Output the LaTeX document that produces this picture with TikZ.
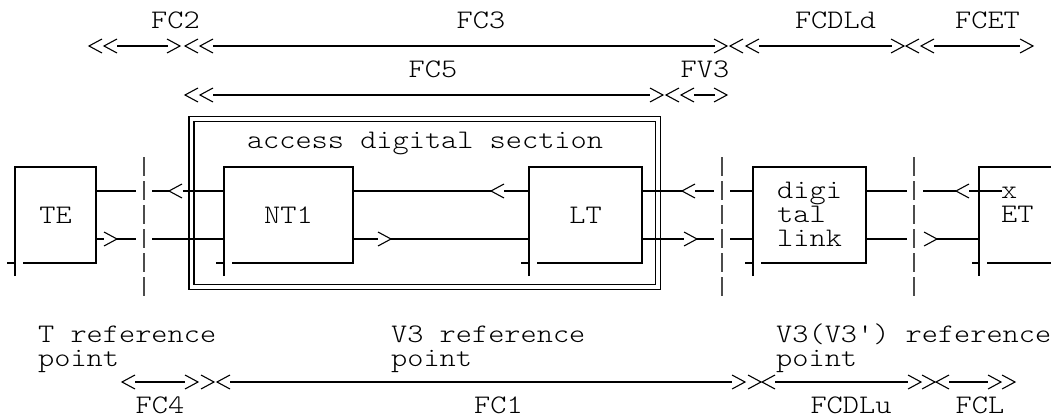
\documentclass[tikz,border=0pt]{standalone}
\usepackage{fontspec}
\newfontfamily\lmm{lmmonolt10-regular.otf}[FakeStretch=1.15,Ligatures=TeXOff]
\usetikzlibrary{calc}
\newcommand\lchev[2]{\draw[chev] (#1,#2) ++(13,-7) -- (#1,#2) -- ++(13,7);}
\newcommand\rchev[2]{\draw[chev] (#1,#2) ++(-13,-7) -- (#1,#2) -- ++(-13,7);}
\newcommand\asciibox[1]{%
  \draw[ln] ([xshift=-8pt]#1.south west) -- (#1.south west);
  \draw[ln] ([yshift=-13pt]#1.south west) -- (#1.north west) -- (#1.north east) -- (#1.south east) -- ([xshift=8pt]#1.south west);}
\begin{document}
\begin{tikzpicture}[x=1pt,y=-1pt,
  ln/.style={line width=1.7pt},
  chev/.style={line width=1.1pt},
  dsh/.style={line width=1.4pt,draw=black!70,dash pattern=on 19pt off 5pt},
  txt/.style={inner sep=0pt,font=\lmm\fontsize{26.8}{24}\selectfont},
  bx/.style={inner sep=0pt,outer sep=0pt,font=\lmm\fontsize{26.8}{24}\selectfont}]
\useasboundingbox[fill=white] (0,0) rectangle (1051,417);
\coordinate (up) at (0,191);
\coordinate (lo) at (0,239);
% top labels
\node[txt,anchor=base] (fc2) at (175.5,29) {FC2};
\node[txt,anchor=base] (fc3) at (481,29) {FC3};
\node[txt,anchor=base] (fcdld) at (835.5,29) {FCDLd};
\node[txt,anchor=base] (fcet) at (987.5,29) {FCET};
\node[txt,anchor=base] (fc5) at (433,78) {FC5};
\node[txt,anchor=base] (fv3) at (705,78) {FV3};
% top dimension row
\lchev{89}{46}\lchev{104}{46}
\draw[ln] (117,46) -- (168,46);
\rchev{180}{46}
\lchev{185}{46}\lchev{200}{46}
\draw[ln] (213,46) -- (715,46);
\rchev{727}{46}
\lchev{730}{46}\lchev{746}{46}
\draw[ln] (759,46) -- (892,46);
\rchev{904}{46}
\lchev{906}{46}\lchev{921}{46}
\draw[ln] (934,46) -- (1020,46);
\rchev{1033}{46}
% second dimension row
\lchev{185}{95}\lchev{200}{95}
\draw[ln] (213,95) -- (650,95);
\rchev{663}{95}
\lchev{666}{95}\lchev{681}{95}
\draw[ln] (694,95) -- (715,95);
\rchev{727}{95}
% access digital section
\node[draw,line width=1.5pt,double,double distance=3.5pt,minimum width=466.5pt,minimum height=168pt,inner sep=0pt] (ads) at (424.75,203) {};
\node[txt,anchor=base] (adslabel) at (425,148) {access digital section};
% boxes
\node[bx,minimum width=81pt,minimum height=96pt] (te) at (55.5,215) {TE};
\node[bx,minimum width=129pt,minimum height=96pt] (nt1) at (288.5,215) {NT1};
\node[bx,minimum width=113pt,minimum height=96pt] (lt) at (585.5,215) {LT};
\node[bx,minimum width=113pt,minimum height=96pt] (dl) at (809.5,215) {};
\node[bx,minimum width=72pt,minimum height=96pt] (et) at (1015,215) {};
\asciibox{te}\asciibox{nt1}\asciibox{lt}\asciibox{dl}
\draw[ln] ([xshift=-7pt]et.south west) -- (et.south west);
\draw[ln] (et.north east) -- (et.north west) -- ([yshift=-13pt]et.south west);
\draw[ln] ([xshift=8pt]et.south west) -- (et.south east);
\node[txt,anchor=base west] (dl1) at (777,198) {digi};
\node[txt,anchor=base west] (dl2) at (777,222) {tal};
\node[txt,anchor=base west] (dl3) at (777,246) {link};
\node[txt,anchor=base west] (etx) at (1001,198) {x};
\node[txt,anchor=base west] (etl) at (1001,222) {ET};
% reference points
\coordinate (rT) at (144,157); \coordinate (rTb) at (144,297);
\coordinate (rV) at (722,157); \coordinate (rVb) at (722,297);
\coordinate (rW) at (914,157); \coordinate (rWb) at (914,297);
\draw[dsh] (rT) -- (rTb);
\draw[dsh] (rV) -- (rVb);
\draw[dsh] (rW) -- (rWb);
% TE - NT1
\draw[ln] (te.east |- up) -- ([xshift=-8pt]rT |- up);
\draw[ln] ([xshift=8pt]rT |- up) -- (169,191);
\lchev{169}{191}
\draw[ln] (183,191) -- (nt1.west |- up);
\draw[ln] (te.east |- lo) -- (104,239);
\rchev{117}{239}
\draw[ln] (117,239) -- ([xshift=-8pt]rT |- lo);
\draw[ln] ([xshift=8pt]rT |- lo) -- (nt1.west |- lo);
% NT1 - LT
\draw[ln] (nt1.east |- up) -- (491,191);
\lchev{491}{191}
\draw[ln] (504,191) -- (lt.west |- up);
\draw[ln] (nt1.east |- lo) -- (378,239);
\rchev{391}{239}
\draw[ln] (391,239) -- (lt.west |- lo);
% LT - digital link
\draw[ln] (lt.east |- up) -- (682,191);
\lchev{682}{191}
\draw[ln] (695,191) -- ([xshift=-8pt]rV |- up);
\draw[ln] ([xshift=8pt]rV |- up) -- (dl.west |- up);
\draw[ln] (lt.east |- lo) -- (684,239);
\rchev{697}{239}
\draw[ln] (697,239) -- ([xshift=-8pt]rV |- lo);
\draw[ln] ([xshift=8pt]rV |- lo) -- (dl.west |- lo);
% digital link - ET
\draw[ln] (dl.east |- up) -- ([xshift=-7pt]rW |- up);
\draw[ln] ([xshift=9pt]rW |- up) -- (956,191);
\lchev{956}{191}
\draw[ln] (969,191) -- (1002,191);
\draw[ln] (dl.east |- lo) -- ([xshift=-7pt]rW |- lo);
\rchev{937}{239}
\draw[ln] (937,239) -- (et.west |- lo);
% bottom labels
\node[txt,anchor=base west] (tref1) at (38,342) {T reference};
\node[txt,anchor=base west] (tref2) at (38,366) {point};
\node[txt,anchor=base west] (vref1) at (391,342) {V3 reference};
\node[txt,anchor=base west] (vref2) at (391,366) {point};
\node[txt,anchor=base west] (wref1) at (776,342) {V3(V3') reference};
\node[txt,anchor=base west] (wref2) at (776,366) {point};
\node[txt,anchor=base] (fc4) at (160,413) {FC4};
\node[txt,anchor=base] (fc1) at (498.5,413) {FC1};
\node[txt,anchor=base] (fcdlu) at (851,413) {FCDLu};
\node[txt,anchor=base] (fcl) at (980,413) {FCL};
% bottom dimension row
\lchev{122}{382}
\draw[ln] (135,382) -- (185,382);
\rchev{198}{382}\rchev{214}{382}
\lchev{217}{382}
\draw[ln] (230,382) -- (732,382);
\rchev{745}{382}\rchev{761}{382}
\lchev{762}{382}
\draw[ln] (775,382) -- (908,382);
\rchev{921}{382}\rchev{935}{382}
\lchev{936}{382}
\draw[ln] (949,382) -- (988,382);
\rchev{1001}{382}\rchev{1015}{382}
\end{tikzpicture}
\end{document}
